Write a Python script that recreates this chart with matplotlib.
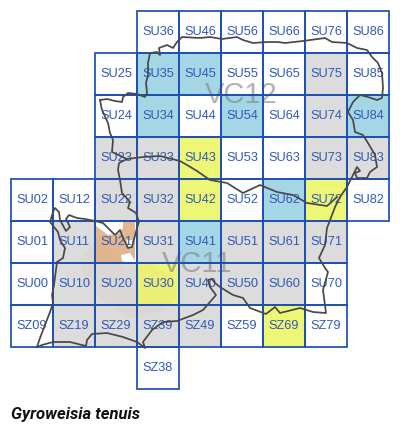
import numpy as np
import matplotlib
matplotlib.use("Agg")
import matplotlib.pyplot as plt
from matplotlib.patches import Rectangle, Polygon

# ── tetrad records by status ──
NOT_RECORDED = ["SU36", "SU46", "SU56", "SU66", "SU76", "SU86", "SU25", "SU55", "SU65", "SU85",
                "SU24", "SU44", "SU64", "SU53", "SU63", "SU02", "SU12", "SU52", "SU82",
                "SU01", "SU00", "SU70", "SZ09", "SZ59", "SZ79", "SZ38"]
OLD_RECORDS = ["SU75", "SU74", "SU23", "SU33", "SU73", "SU83", "SU22", "SU32", "SU11", "SU31",
               "SU51", "SU61", "SU71", "SU10", "SU20", "SU40", "SU50", "SU60",
               "SZ19", "SZ29", "SZ39", "SZ49"]
BLUE_CELLS = ["SU35", "SU45", "SU34", "SU54", "SU84", "SU62", "SU41"]
YELLOW_CELLS = ["SU43", "SU42", "SU72", "SU30", "SZ69"]
TAN_CELLS = ["SU21"]

VC_NAMES = ["VC12", "VC11"]
VC_X_KM = [54.8, 44.3]
VC_Y_KM = [50.0, 9.8]

SPECIES = "Gyroweisia tenuis"

# ── outlines, in image pixels ──
COAST_X = [37, 40, 50, 53, 52, 54, 57, 63, 65, 60, 58, 50, 53, 55, 59, 60, 66, 70, 66, 69, 77, 85, 95,
           103, 110, 115, 120, 123, 128, 132, 137, 139, 136, 128, 130, 122, 120, 118, 119, 127]
COAST_Y = [347, 338, 312, 303, 295, 285, 262, 258, 248, 240, 232, 222, 212, 208, 212, 220, 231, 227, 219, 215, 218, 219, 221,
           223, 230, 235, 230, 238, 248, 247, 228, 222, 213, 208, 202, 193, 180, 170, 163, 159]
VC_SPLIT_X = [100, 102, 108, 110, 113, 112, 127, 143, 160, 180, 187, 197, 210, 227, 243, 260, 277, 293, 307, 327, 337]
VC_SPLIT_Y = [100, 110, 123, 133, 140, 152, 159, 157, 156, 161, 165, 171, 180, 183, 193, 185, 192, 195, 203, 206, 197]
NORTH_X = [100, 107, 115, 122, 123, 128, 137, 145, 147, 146, 148, 148, 150, 157, 160, 159, 167, 173, 177, 182,
           200, 210, 222, 237, 243, 253, 267, 278, 285, 303, 325, 332, 347, 357, 367, 372, 378, 382, 383, 382,
           377, 368, 360, 353, 348, 353, 355, 363, 368, 375, 377, 370, 367, 357, 355, 360, 357, 353, 347, 340,
           335, 332, 327, 325, 319, 325, 328, 323, 326, 313, 300, 280, 275, 266, 258, 250, 243, 233, 220, 215,
           212, 208, 210, 216, 210, 203, 193, 177, 163, 152, 143, 145, 137, 123, 107, 92, 87, 86, 70, 53, 42, 37]
NORTH_Y = [100, 99, 101, 102, 97, 93, 94, 97, 93, 83, 75, 63, 53, 52, 55, 48, 45, 48, 42, 37,
           38, 37, 39, 37, 40, 43, 42, 42, 43, 41, 38, 42, 43, 48, 50, 57, 63, 73, 88, 98,
           100, 97, 95, 102, 112, 120, 132, 135, 143, 155, 167, 172, 178, 178, 173, 171, 167, 175, 187, 197,
           207, 215, 228, 245, 258, 268, 272, 290, 313, 312, 308, 313, 307, 314, 311, 308, 298, 295, 287, 283,
           279, 280, 287, 295, 302, 310, 315, 321, 322, 330, 342, 348, 342, 337, 333, 334, 340, 346, 342, 342, 345, 347]

# urban patch inside SU21 and the faint one under the grey cells
WHITE_GAP_X = [96, 123, 123, 118, 108, 100, 96]
WHITE_GAP_Y = [221, 221, 228, 234, 235, 229, 226]
WHITE_SIDE_X = [135, 138, 138, 135]
WHITE_SIDE_Y = [222, 222, 262, 262]
WHITE_LOW_X = [121, 130, 136, 128, 122]
WHITE_LOW_Y = [255, 253, 262, 263, 261]
WHITE_HARBOUR_X = [127, 132, 132, 128]
WHITE_HARBOUR_Y = [240, 240, 248, 248]
FAINT_X = [80, 96, 125, 150, 172, 178, 160, 130, 105, 84]
FAINT_Y = [260, 240, 268, 264, 275, 298, 312, 318, 302, 282]

PX_PER_KM = 4.2
LEFT_PX = 11
TOP_PX = 11
CELL_KM = 10

GRID_COLOR = "#1d4fb0"
TEXT_COLOR = "#2f58b8"
COAST_COLOR = "#484848"
FILLS = {"white": "#ffffff", "grey": "#dcdcdc", "blue": "#a5d6e6", "yellow": "#eef676", "tan": "#e2b68f"}


def cell_origin(code):
    """Grid code to the south-west corner of the 10 km square, in km."""
    east = int(code[2]) * CELL_KM
    north = int(code[3]) * CELL_KM
    if code[:2] == "SZ":
        north -= 100
    return east, north


def px_to_km(xs, ys):
    return (np.array(xs) - LEFT_PX) / PX_PER_KM, 70 - (np.array(ys) - TOP_PX) / PX_PER_KM


fig = plt.figure(figsize=(4.0, 4.3), dpi=100)
ax = fig.add_axes([0, 0, 1, 1])
ax.set_xlim(-LEFT_PX / PX_PER_KM, (400 - LEFT_PX) / PX_PER_KM)
ax.set_ylim(70 - (430 - TOP_PX) / PX_PER_KM, 70 + TOP_PX / PX_PER_KM)
ax.axis("off")

groups = [(NOT_RECORDED, "white"), (OLD_RECORDS, "grey"), (BLUE_CELLS, "blue"),
          (YELLOW_CELLS, "yellow"), (TAN_CELLS, "tan")]
for codes, fill in groups:
    for code in codes:
        east, north = cell_origin(code)
        ax.add_patch(Rectangle((east, north), CELL_KM, CELL_KM, facecolor=FILLS[fill], edgecolor="none", zorder=1))

# urban shading
for xs, ys in [(WHITE_GAP_X, WHITE_GAP_Y), (WHITE_SIDE_X, WHITE_SIDE_Y), (WHITE_LOW_X, WHITE_LOW_Y),
               (WHITE_HARBOUR_X, WHITE_HARBOUR_Y)]:
    kx, ky = px_to_km(xs, ys)
    ax.add_patch(Polygon(np.column_stack([kx, ky]), facecolor="white", edgecolor="none", zorder=2))
kx, ky = px_to_km(FAINT_X, FAINT_Y)
ax.add_patch(Polygon(np.column_stack([kx, ky]), facecolor="#c8a080", alpha=0.07, edgecolor="none", zorder=2))

for name, x, y in zip(VC_NAMES, VC_X_KM, VC_Y_KM):
    ax.text(x, y, name, fontsize=21, color="#808080", alpha=0.6, ha="center", va="center",
            family="Liberation Sans", zorder=3)

all_codes = NOT_RECORDED + OLD_RECORDS + BLUE_CELLS + YELLOW_CELLS + TAN_CELLS
for code in all_codes:
    east, north = cell_origin(code)
    ax.add_patch(Rectangle((east, north), CELL_KM, CELL_KM, facecolor="none", edgecolor=GRID_COLOR, lw=1.25, zorder=4))
    ax.text(east + CELL_KM / 2, north + CELL_KM / 2, code, fontsize=9.2, color=TEXT_COLOR, ha="center", va="center",
            family="Liberation Sans", zorder=5)

for xs, ys in [(NORTH_X, NORTH_Y), (COAST_X, COAST_Y), (VC_SPLIT_X, VC_SPLIT_Y)]:
    kx, ky = px_to_km(xs, ys)
    ax.plot(kx, ky, color=COAST_COLOR, lw=1.25, solid_joinstyle="round", zorder=6)

fig.text(11 / 400, 1 - 419 / 430, SPECIES, fontsize=12, fontweight="bold", fontstyle="italic",
         family="Roboto", color="#111111", ha="left", va="baseline")

fig.savefig("out.png", dpi=100, facecolor="white")
